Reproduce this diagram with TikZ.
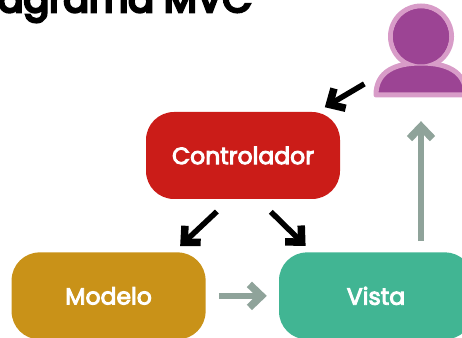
\documentclass[tikz,border=0pt]{standalone}
\usepackage{fontspec}
\setmainfont{Poppins}
\newfontfamily\medio[FakeBold=4]{Poppins}
\newfontfamily\fuerte[FakeBold=7]{Poppins}
\usepackage{tikz}
\usetikzlibrary{positioning}
\usetikzlibrary{arrows.meta}
\definecolor{rojo}{HTML}{CB1C18}
\definecolor{ocre}{HTML}{C99218}
\definecolor{verde}{HTML}{41B593}
\definecolor{gris}{HTML}{8FA39A}
\definecolor{morado}{HTML}{9C4494}
\definecolor{lila}{HTML}{D89CC8}
\tikzset{caja/.style={rectangle,rounded corners=28pt,minimum width=194pt,minimum height=87pt,inner sep=0pt,text=white,font=\fontsize{23.5}{23.5}\medio},
flecha/.style={line width=5.5pt,-{Straight Barb[length=12pt,width=23pt,line width=7.5pt]}},}

\begin{document}
\begin{tikzpicture}[x=1pt,y=1pt]
    \useasboundingbox (0,0) rectangle (462,337);
    \clip (0,0) rectangle (462,337);
    \node[anchor=base east,inner sep=0pt,font=\fontsize{38}{38}\fuerte] (titulo) at (252,325) {Diagrama MVC};

    \node[caja,fill=rojo] (controlador) at (243,181.5) {Controlador};
    \node[caja,fill=ocre] (modelo) [below left = 53pt and -60pt of controlador] {Modelo};
    \node[caja,fill=verde] (vista) [right = 73pt of modelo] {Vista};
    \node[minimum width=94pt,minimum height=93pt,inner sep=0pt] (usuario) at (421,286.5) {};

    % persona
    \draw[lila,line width=5pt,fill=morado] (421,300.5) circle (30.5pt);
    \draw[lila,line width=5pt,fill=morado,line join=round] (376,242) .. controls (376,266) and (396,274) .. (421,274) .. controls (446,274) and (466,266) .. (466,242) -- cycle;
    \fill[morado] (421,300.5) circle (28pt);

    \draw[flecha,shorten <=11pt,shorten >=9pt] (usuario) -- (controlador);
    \draw[flecha,shorten <=18pt,shorten >=9pt] ([xshift=-13pt]controlador.south) -- ([xshift=65pt]modelo.north);
    \draw[flecha,shorten <=18pt,shorten >=9pt] ([xshift=15pt]controlador.south) -- ([xshift=-64pt]vista.north);
    \draw[flecha,gris,shorten <=13pt,shorten >=12pt] (modelo) -- (vista);
    \draw[flecha,gris,shorten <=11pt,shorten >=24pt] (vista.north -| usuario) -- (usuario.south);
\end{tikzpicture}
\end{document}
